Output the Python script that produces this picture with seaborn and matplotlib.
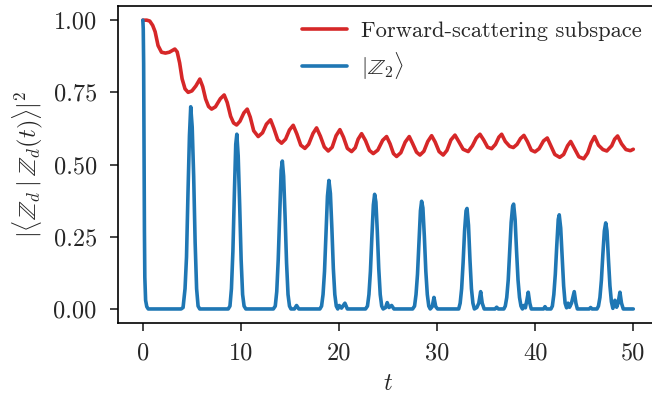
import matplotlib
matplotlib.use("Agg")
import matplotlib.pyplot as plt
import seaborn as sns
import pandas as pd

# ---- data ----
red_t = [0, 0.4, 0.7, 1.0, 1.25, 1.55, 1.9, 2.3, 2.7, 3.0, 3.26, 3.5, 3.75, 4.0, 4.3, 4.62, 5.0, 5.4, 5.81, 6.1,
         6.4, 6.7, 7.01, 7.4, 7.9, 8.29, 8.6, 8.95, 9.25, 9.56, 9.9, 10.3, 10.64, 10.95, 11.3, 11.76, 12.2, 12.6,
         13.02, 13.35, 13.75, 14.14, 14.55, 14.95, 15.33, 15.7, 16.1, 16.52, 16.9, 17.35, 17.71, 18.1, 18.5, 18.9,
         19.3, 19.7, 20.09, 20.45, 20.85, 21.28, 21.65, 21.95, 22.3, 22.7, 23.1, 23.49, 23.95, 24.45, 24.85, 25.2,
         25.55, 25.87, 26.3, 26.75, 27.16, 27.5, 27.9, 28.25, 28.65, 29.05, 29.44, 29.8, 30.2, 30.62, 31.0, 31.4,
         31.82, 32.2, 32.65, 33.17, 33.6, 34.0, 34.37, 34.75, 35.15, 35.56, 35.95, 36.3, 36.58, 36.95, 37.4, 37.77,
         38.15, 38.5, 38.85, 39.2, 39.6, 39.98, 40.4, 40.85, 41.23, 41.6, 42.0, 42.5, 42.9, 43.3, 43.62, 44.0, 44.45,
         44.95, 45.35, 45.7, 46.05, 46.45, 46.9, 47.3, 47.8, 48.1, 48.4, 48.8, 49.25, 49.7, 50.0]
red_v = [1.0, 1.0, 0.997, 0.982, 0.96, 0.912, 0.889, 0.886, 0.889, 0.895, 0.9, 0.89, 0.852, 0.797, 0.762, 0.75,
         0.755, 0.772, 0.796, 0.77, 0.727, 0.701, 0.692, 0.70, 0.728, 0.741, 0.715, 0.667, 0.644, 0.637, 0.65, 0.679,
         0.692, 0.664, 0.617, 0.597, 0.61, 0.64, 0.655, 0.626, 0.586, 0.574, 0.588, 0.62, 0.636, 0.606, 0.567, 0.556,
         0.57, 0.608, 0.627, 0.598, 0.561, 0.547, 0.56, 0.60, 0.621, 0.595, 0.556, 0.545, 0.558, 0.588, 0.607, 0.583,
         0.549, 0.538, 0.55, 0.584, 0.597, 0.572, 0.538, 0.528, 0.541, 0.578, 0.597, 0.573, 0.543, 0.533, 0.546,
         0.58, 0.6, 0.578, 0.545, 0.533, 0.549, 0.585, 0.602, 0.58, 0.553, 0.545, 0.565, 0.592, 0.605, 0.585, 0.56,
         0.555, 0.57, 0.595, 0.605, 0.58, 0.563, 0.559, 0.57, 0.59, 0.601, 0.58, 0.55, 0.544, 0.555, 0.582, 0.592,
         0.565, 0.535, 0.525, 0.535, 0.565, 0.58, 0.556, 0.527, 0.52, 0.54, 0.575, 0.597, 0.567, 0.552, 0.547, 0.565,
         0.588, 0.599, 0.572, 0.552, 0.548, 0.553]

blue_t = [0, 0.04, 0.08, 0.12, 0.16, 0.2, 0.28, 0.4, 0.55,
          3.9, 4.1, 4.3, 4.45, 4.6, 4.75, 4.88, 5.03, 5.18, 5.33, 5.48, 5.63, 5.8,
          8.7, 8.88, 9.03, 9.18, 9.33, 9.47, 9.58, 9.72, 9.87, 10.02, 10.17, 10.32, 10.5,
          13.3, 13.5, 13.65, 13.8, 13.95, 14.1, 14.22, 14.35, 14.5, 14.65, 14.8, 14.95, 15.1,
          15.45, 15.67, 15.9,
          18.05, 18.22, 18.37, 18.52, 18.67, 18.82, 18.97, 19.12, 19.27, 19.42, 19.57, 19.72, 19.87,
          20.02, 20.25, 20.6, 20.85,
          22.7, 22.9, 23.05, 23.2, 23.35, 23.5, 23.63, 23.76, 23.9, 24.05, 24.2, 24.35, 24.5,
          24.75, 24.91, 25.1, 25.36, 25.6,
          27.5, 27.7, 27.85, 28.0, 28.15, 28.3, 28.42, 28.55, 28.7, 28.85, 29.0, 29.15, 29.3,
          29.5, 29.68, 29.86, 30.05,
          32.2, 32.35, 32.5, 32.65, 32.8, 32.95, 33.05, 33.2, 33.35, 33.5, 33.65, 33.8,
          34.05, 34.25, 34.44, 34.6, 34.8, 35.9, 36.07, 36.25,
          36.8, 36.95, 37.1, 37.25, 37.4, 37.55, 37.7, 37.8, 37.95, 38.1, 38.25, 38.4, 38.55, 38.7,
          38.85, 39.0, 39.15, 39.29, 39.45, 39.6, 40.85, 41.0, 41.15,
          41.6, 41.75, 41.9, 42.05, 42.2, 42.35, 42.45, 42.6, 42.75, 42.9, 43.05, 43.2,
          43.35, 43.5, 43.7, 43.98, 44.15, 44.3, 45.5, 45.65, 45.8,
          46.3, 46.45, 46.6, 46.75, 46.9, 47.05, 47.19, 47.32, 47.47, 47.62, 47.77, 47.92,
          48.13, 48.3, 48.45, 48.64, 48.8, 48.98, 50.0]
blue_v = [1.0, 0.97, 0.85, 0.55, 0.27, 0.11, 0.03, 0.008, 0.0,
          0.0, 0.005, 0.07, 0.18, 0.40, 0.60, 0.70, 0.63, 0.46, 0.23, 0.07, 0.01, 0.0,
          0.0, 0.01, 0.07, 0.2, 0.40, 0.57, 0.605, 0.53, 0.36, 0.17, 0.05, 0.01, 0.0,
          0.0, 0.01, 0.06, 0.17, 0.33, 0.48, 0.512, 0.46, 0.32, 0.16, 0.05, 0.01, 0.0,
          0.0, 0.012, 0.0,
          0.0, 0.01, 0.05, 0.13, 0.26, 0.39, 0.445, 0.40, 0.28, 0.14, 0.05, 0.01, 0.0,
          0.012, 0.003, 0.02, 0.0,
          0.0, 0.01, 0.05, 0.13, 0.25, 0.36, 0.397, 0.37, 0.27, 0.14, 0.05, 0.01, 0.0,
          0.005, 0.022, 0.005, 0.012, 0.0,
          0.0, 0.01, 0.05, 0.12, 0.23, 0.34, 0.373, 0.35, 0.25, 0.13, 0.05, 0.01, 0.0,
          0.008, 0.04, 0.008, 0.0,
          0.0, 0.02, 0.07, 0.16, 0.27, 0.34, 0.348, 0.29, 0.17, 0.07, 0.02, 0.0,
          0.005, 0.02, 0.06, 0.02, 0.0, 0.0, 0.006, 0.0,
          0.0, 0.01, 0.04, 0.1, 0.2, 0.3, 0.355, 0.363, 0.31, 0.2, 0.1, 0.04, 0.01, 0.0,
          0.012, 0.004, 0.03, 0.058, 0.02, 0.0, 0.0, 0.008, 0.0,
          0.0, 0.01, 0.05, 0.12, 0.22, 0.31, 0.326, 0.28, 0.18, 0.08, 0.02, 0.004,
          0.02, 0.006, 0.02, 0.06, 0.02, 0.0, 0.0, 0.005, 0.0,
          0.0, 0.01, 0.04, 0.1, 0.19, 0.27, 0.298, 0.27, 0.17, 0.08, 0.025, 0.002,
          0.03, 0.006, 0.02, 0.058, 0.02, 0.0, 0.0]

x_ticks = [0, 10, 20, 30, 40, 50]
y_ticks = [0.00, 0.25, 0.50, 0.75, 1.00]
label_red = "Forward-scattering subspace"
label_blue = r"$|\mathbb{Z}_2\rangle$"
x_label = r"$t$"
y_label = r"$|\langle \mathbb{Z}_d \mid \mathbb{Z}_d(t)\rangle|^2$"

# ---- style ----
sns.set_style("ticks")
plt.rcParams["font.family"] = ["cmr10"]
plt.rcParams["mathtext.fontset"] = "cm"
plt.rcParams["axes.formatter.use_mathtext"] = True
plt.rcParams["axes.unicode_minus"] = False
FS = 17.5
LFS = 16.2

fig = plt.figure(figsize=(6.52, 3.97), dpi=100)
ax = fig.add_axes([0.1815, 0.1854, 0.8274, 0.8002])

df_red = pd.DataFrame({"t": red_t, "v": red_v})
df_blue = pd.DataFrame({"t": blue_t, "v": blue_v})
sns.lineplot(data=df_red, x="t", y="v", ax=ax, color="#d62728", lw=2.6, label=label_red,
             estimator=None, sort=False)
sns.lineplot(data=df_blue, x="t", y="v", ax=ax, color="#1f77b4", lw=2.6, label=label_blue,
             estimator=None, sort=False)

ax.set_xlim(-2.5, 52.5)
ax.set_ylim(-0.05, 1.05)
ax.set_xticks(x_ticks)
ax.set_xticklabels([str(v) for v in x_ticks])
ax.set_yticks(y_ticks)
ax.set_yticklabels([f"{v:.2f}" for v in y_ticks])
ax.tick_params(axis="both", labelsize=FS, length=6, width=1.2, direction="out")
ax.tick_params(axis="x", pad=8)
ax.tick_params(axis="y", pad=9.5)
for s in ax.spines.values():
    s.set_linewidth(1.2)
    s.set_color("black")
ax.spines["right"].set_visible(False)
ax.set_xlabel(x_label, fontsize=FS, labelpad=6)
ax.set_ylabel(y_label, fontsize=FS, labelpad=6)

ax.legend(frameon=False, loc="upper right", fontsize=LFS, handlelength=2.0, labelspacing=0.4,
          borderaxespad=0.3, handletextpad=0.65)

fig.savefig("out.png", dpi=100)
